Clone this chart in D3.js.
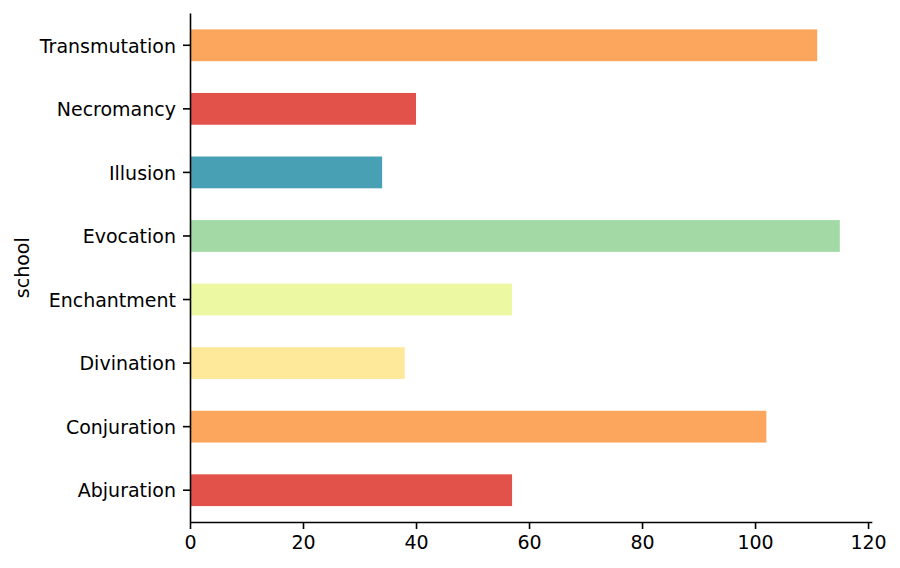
<!DOCTYPE html>
<html><head><meta charset="utf-8">
<script src="https://cdn.jsdelivr.net/npm/d3@7"></script>
<style>body{margin:0;background:#fff}svg{display:block}text{font-family:"DejaVu Sans",sans-serif;fill:#000}</style>
</head><body><svg id="c" width="900" height="568"></svg>
<script>
const categories = ["Abjuration","Conjuration","Divination","Enchantment","Evocation","Illusion","Necromancy","Transmutation"];
const values = [57,102,38,57,115,34,40,111];
const palette = ["#e2514a","#fca55d","#fee899","#edf8a3","#a2d9a4","#47a0b3"];
const xTicks = [0,20,40,60,80,100,120];
const yLabel = "school";

(function(){
const svg = d3.select("#c");
const mL = 190, mR = 872.3, mT = 13.5, mB = 522;
const fs = 19;
const x = d3.scaleLinear().domain([0, d3.max(values)*1.05]).range([mL, mR]);
const y = d3.scaleBand().domain(categories.slice().reverse()).range([mT, mB]).paddingInner(0.5).paddingOuter(0.25);

svg.append("g").selectAll("rect").data(categories).join("rect")
  .attr("x", x(0)).attr("y", d => y(d))
  .attr("width", (d,i) => x(values[i]) - x(0)).attr("height", y.bandwidth())
  .attr("fill", (d,i) => palette[i % palette.length]);

const xa = svg.append("g").attr("transform", `translate(0,${mB})`)
  .call(d3.axisBottom(x).tickValues(xTicks).tickSize(7).tickPadding(7).tickFormat(d3.format("d")));
const ya = svg.append("g").attr("transform", `translate(${mL},0)`)
  .call(d3.axisLeft(y).tickSize(7).tickPadding(7));
[xa, ya].forEach(a => {
  a.attr("font-size", null).attr("font-family", null);
  a.selectAll("path.domain").attr("stroke", "#000").attr("stroke-width", 1.6);
  a.selectAll(".tick line").attr("stroke", "#000").attr("stroke-width", 1.6);
  a.selectAll(".tick text").style("font-size", fs + "px").style("font-family", '"DejaVu Sans",sans-serif').attr("fill", "#000");
});
ya.selectAll(".tick text").attr("dy", "0.38em");
xa.select("path.domain").attr("d", `M${mL},0.5H${mR}`);
ya.select("path.domain").attr("d", `M0.5,${mT}V${mB}`);

svg.append("text").attr("transform", `translate(29,${(mT+mB)/2}) rotate(-90)`)
  .attr("text-anchor", "middle").style("font-size", fs + "px").text(yLabel);
})();
</script></body></html>
